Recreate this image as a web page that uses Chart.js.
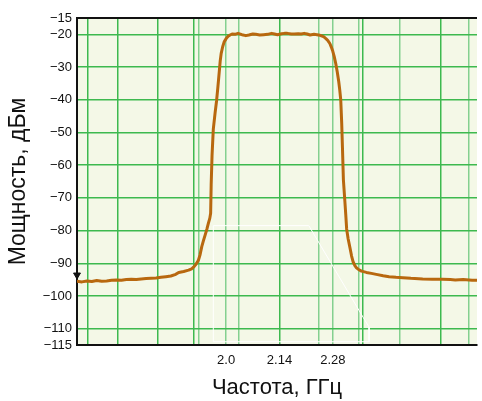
<!DOCTYPE html>
<html>
<head>
<meta charset="utf-8">
<script src="https://cdn.jsdelivr.net/npm/chart.js@4/dist/chart.umd.min.js"></script>
<style>
  html, body { margin: 0; padding: 0; background: #fff; }
  canvas { display: block; }
</style>
</head>
<body>
<canvas id="spectrum" width="482" height="401"></canvas>
<script>
// spectrum trace, GHz / dBm
const freqGHz = [
  1.6085, 1.6215, 1.6344, 1.6474, 1.6604, 1.6733, 1.6863, 1.6992, 1.7122, 1.7252,
  1.7381, 1.7511, 1.7641, 1.7770, 1.7900, 1.8030, 1.8159, 1.8289, 1.8418, 1.8548,
  1.8678, 1.8755, 1.8885, 1.9015, 1.9093, 1.9144, 1.9196, 1.9248, 1.9274, 1.9313,
  1.9360, 1.9404, 1.9448, 1.9494, 1.9533, 1.9572, 1.9593, 1.9607, 1.9630, 1.9663,
  1.9710, 1.9749, 1.9780, 1.9819, 1.9844, 1.9870, 1.9909, 1.9948, 2.0000, 2.0052,
  2.0104, 2.0156, 2.0233, 2.0311, 2.0415, 2.0519, 2.0596, 2.0700, 2.0778, 2.0882,
  2.0985, 2.1089, 2.1193, 2.1270, 2.1348, 2.1452, 2.1530, 2.1607, 2.1711, 2.1789,
  2.1893, 2.1970, 2.2048, 2.2126, 2.2204, 2.2307, 2.2385, 2.2463, 2.2515, 2.2567,
  2.2619, 2.2670, 2.2722, 2.2761, 2.2800, 2.2839, 2.2878, 2.2917, 2.2956, 2.2982,
  2.3008, 2.3033, 2.3054, 2.3078, 2.3119, 2.3142, 2.3163, 2.3202, 2.3249, 2.3293,
  2.3337, 2.3383, 2.3422, 2.3474, 2.3552, 2.3682, 2.3811, 2.3941, 2.4122, 2.4278,
  2.4459, 2.4641, 2.4848, 2.5159, 2.5419, 2.5678, 2.5885, 2.6015, 2.6222, 2.6456,
  2.6585
];
const powerDbm = [
  -95.5, -95.7, -95.4, -95.6, -95.3, -95.5, -95.4, -95.2, -95.1, -95.2,
  -95.0, -94.9, -95.0, -94.8, -94.7, -94.6, -94.5, -94.3, -94.1, -93.9,
  -93.4, -92.8, -92.5, -92.1, -91.7, -91.2, -90.5, -89.6, -89.0, -87.5,
  -84.9, -83.1, -81.4, -79.6, -77.8, -76.2, -74.7, -66.0, -57.0, -49.0,
  -44.0, -40.3, -36.5, -31.5, -28.2, -25.8, -23.8, -22.3, -21.3, -20.6,
  -20.2, -19.9, -20.0, -19.7, -20.1, -20.4, -20.2, -19.9, -20.0, -20.2,
  -20.1, -20.0, -19.7, -19.9, -20.1, -19.8, -19.7, -19.7, -19.9, -19.9,
  -19.8, -19.9, -19.7, -19.9, -20.2, -20.0, -20.1, -20.3, -20.5, -20.8,
  -21.3, -21.9, -22.8, -23.9, -25.2, -26.9, -29.0, -31.5, -34.5, -37.0,
  -40.0, -47.0, -55.0, -64.5, -71.5, -75.5, -79.5, -82.5, -85.2, -87.8,
  -89.7, -90.8, -91.4, -91.9, -92.4, -92.8, -93.1, -93.4, -93.8, -94.1,
  -94.3, -94.4, -94.6, -94.8, -94.9, -94.9, -95.0, -95.1, -95.0, -95.2,
  -95.2
];

// white mask outline
const maskGHz = [1.9663, 1.9663, 2.2170, 2.3604, 2.3752, 2.3752, 1.9663];
const maskDbm = [-114.0, -78.5, -78.5, -106.7, -109.5, -114.0, -114.0];

// reference marker
const markerGHz = [1.6085];
const markerDbm = [-93.6];

const xMin = 1.6085, xMax = 2.6585;
const yMin = -115, yMax = -15;
const xGridStrong = [1.6370, 1.7148, 1.8211, 1.9144, 2.14, 2.3591, 2.5626];
const xGridWeak = [1.9274, 2.0, 2.0337, 2.2437, 2.28, 2.3487, 2.4563, 2.6378];
const xTickValues = [2.0, 2.14, 2.28];
const xTickLabels = ['2.0', '2.14', '2.28'];
const yTicks = [-115, -110, -100, -90, -80, -70, -60, -50, -40, -30, -20, -15];

const FONT = '"Liberation Sans", Arial, Helvetica, sans-serif';
const GREEN = '#3db94f';
const GREEN_LIGHT = '#84d08f';

const toPoints = (xs, ys) => xs.map((x, i) => ({ x: x, y: ys[i] }));
const near = (a, b) => Math.abs(a - b) < 1e-6;

const plotBg = {
  id: 'plotBg',
  beforeDraw(chart) {
    const { ctx, chartArea: a } = chart;
    ctx.save();
    ctx.fillStyle = '#f4f8e7';
    ctx.fillRect(a.left, a.top, a.right - a.left, a.bottom - a.top);
    ctx.restore();
  }
};

new Chart(document.getElementById('spectrum'), {
  type: 'line',
  data: {
    datasets: [
      {
        type: 'scatter',
        data: toPoints(markerGHz, markerDbm),
        pointStyle: 'triangle',
        rotation: 180,
        pointRadius: 4,
        backgroundColor: '#111',
        borderColor: '#111',
        clip: false
      },
      {
        data: toPoints(freqGHz, powerDbm),
        borderColor: '#b8680f',
        borderWidth: 3,
        borderJoinStyle: 'round',
        borderCapStyle: 'round',
        pointRadius: 0,
        tension: 0
      },
      {
        data: toPoints(maskGHz, maskDbm),
        borderColor: '#ffffff',
        borderWidth: 1,
        pointRadius: 0,
        tension: 0
      }
    ]
  },
  options: {
    responsive: false,
    animation: false,
    layout: { padding: { top: 18, right: 0, left: 0, bottom: 0 } },
    plugins: { legend: { display: false }, tooltip: { enabled: false } },
    scales: {
      x: {
        type: 'linear',
        min: xMin,
        max: xMax,
        afterBuildTicks: s => { s.ticks = xGridStrong.concat(xGridWeak).sort((a, b) => a - b).map(v => ({ value: v })); },
        afterFit: s => { s.height = 56; },
        grid: {
          drawTicks: false,
          lineWidth: 1.5,
          color: c => xGridStrong.some(v => near(v, c.tick.value)) ? GREEN : GREEN_LIGHT
        },
        border: { display: true, color: '#111', width: 2 },
        ticks: {
          autoSkip: false,
          maxRotation: 0,
          padding: 8,
          color: '#111',
          font: { family: FONT, size: 13 },
          callback: v => {
            const i = xTickValues.findIndex(t => near(t, v));
            return i >= 0 ? xTickLabels[i] : '';
          }
        },
        title: {
          display: true,
          text: 'Частота, ГГц',
          color: '#111',
          font: { family: FONT, size: 22 },
          padding: { top: 0, bottom: 0 }
        }
      },
      y: {
        min: yMin,
        max: yMax,
        afterBuildTicks: s => { s.ticks = yTicks.map(v => ({ value: v })); },
        afterFit: s => { s.width = 77; },
        grid: {
          drawTicks: false,
          lineWidth: c => (c.tick.value === yMin || c.tick.value === yMax) ? 2 : 1.5,
          color: c => (c.tick.value === yMin || c.tick.value === yMax) ? '#111' : GREEN
        },
        border: { display: true, color: '#111', width: 2 },
        ticks: {
          autoSkip: false,
          padding: 5,
          color: '#111',
          font: { family: FONT, size: 13 },
          callback: v => v < 0 ? '\u2212' + Math.abs(v) : String(v)
        },
        title: {
          display: true,
          text: 'Мощность, дБм',
          color: '#111',
          font: { family: FONT, size: 23 },
          padding: { top: 5, bottom: 0 }
        }
      }
    }
  },
  plugins: [plotBg]
});
</script>
</body>
</html>
